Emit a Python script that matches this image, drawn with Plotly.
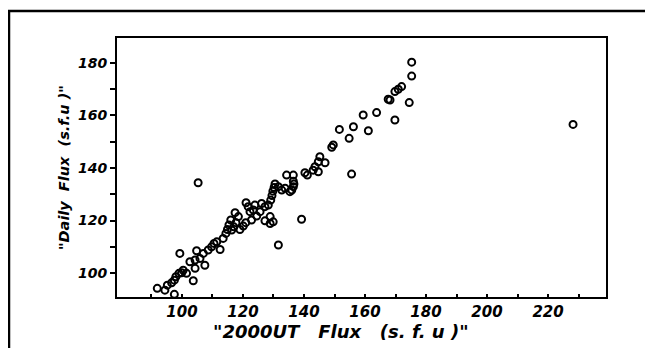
import plotly.graph_objects as go

# 2000UT flux (s.f.u) vs daily flux (s.f.u)
flux_2000ut = [
    91.9, 94.4, 95.2, 96.6, 97.5, 98.0, 99.0, 99.9, 100.4, 97.5, 99.3, 101.5,
    103.7, 102.6, 104.3, 104.3, 104.8, 105.9, 107.5, 107.0, 108.6, 109.7, 110.5,
    111.4, 112.5, 113.5, 114.4, 114.9, 115.4, 116.0, 116.3, 117.0, 117.7, 117.4,
    118.5, 119.0, 120.1, 120.9, 121.0, 121.7, 122.3, 122.8, 123.4, 123.9, 124.5,
    125.6, 126.1, 127.2, 127.2, 128.3, 128.9, 128.9, 129.1, 129.5, 129.8, 130.2,
    130.5, 129.9, 131.6, 131.6, 132.7, 133.8, 135.4, 136.0, 134.3, 136.5, 136.5,
    136.7, 136.5, 139.2, 140.3, 141.1, 143.0, 143.6, 144.7, 145.2, 146.9, 144.7,
    149.1, 149.6, 151.6, 154.8, 156.2, 155.6, 159.4, 161.1, 163.8, 167.6, 168.2,
    169.8, 170.9, 172.0, 169.8, 174.5, 175.3, 175.3, 228.2, 105.3,
]
daily_flux = [
    94.2, 93.5, 95.4, 96.3, 97.3, 98.6, 99.9, 100.1, 101.1, 91.9, 107.5, 99.9,
    97.1, 104.3, 101.8, 105.0, 108.5, 105.6, 103.0, 107.5, 108.8, 110.0, 111.3,
    111.9, 109.0, 113.2, 115.1, 116.6, 118.3, 120.2, 116.4, 117.6, 119.2, 123.0,
    121.5, 116.6, 117.9, 119.2, 126.8, 125.3, 123.4, 120.2, 124.0, 125.9, 121.7,
    123.4, 126.5, 119.9, 125.3, 125.9, 121.5, 118.9, 127.8, 129.5, 131.2, 132.6,
    133.9, 119.5, 110.7, 132.9, 131.6, 132.3, 131.0, 131.6, 137.3, 137.3, 135.0,
    133.9, 132.9, 120.5, 138.2, 137.3, 139.2, 140.5, 142.4, 144.3, 142.0, 138.6,
    147.9, 148.8, 154.7, 151.3, 155.7, 137.7, 160.2, 154.2, 161.1, 166.2, 165.9,
    169.1, 170.0, 171.0, 158.3, 164.9, 175.0, 180.3, 156.6, 134.4,
]

x_tick_vals = list(range(90, 231, 10))
x_tick_text = ["" if v % 20 else str(v) for v in x_tick_vals]
y_tick_vals = list(range(100, 181, 10))
y_tick_text = ["" if v % 20 else str(v) for v in y_tick_vals]

x_title = '"2000UT   Flux   (s. f. u )"'
y_title = '"Daily  Flux  (s.f.u )"'

# The page body has an 8px margin, so work in window pixels and shift.
OFF = 8
W, H = 653 - OFF, 348 - OFF
L, R, T, B = 117, 606, 38, 297  # plot box in window pixels


def px(x):
    return (x - L) / (R - L)


def py(y):
    return (B - y) / (B - T)


font_base = dict(family="DejaVu Sans", color="black", weight="bold", style="italic")

fig = go.Figure()
fig.add_trace(go.Scatter(
    x=flux_2000ut, y=daily_flux, mode="markers",
    marker=dict(symbol="circle-open", size=7, color="black",
                line=dict(width=2, color="black")),
    showlegend=False, hoverinfo="x+y",
))

fig.update_layout(
    width=W, height=H,
    margin=dict(l=L - OFF, r=653 - R, t=T - OFF, b=348 - B, pad=0),
    paper_bgcolor="white", plot_bgcolor="white",
    xaxis=dict(
        range=[78.7, 239], tickmode="array", tickvals=x_tick_vals, ticktext=x_tick_text,
        ticks="inside", ticklen=3, tickwidth=1.5, tickcolor="black",
        showline=True, linewidth=2, linecolor="black", mirror=True,
        showgrid=False, zeroline=False,
        tickfont=dict(size=15, **font_base),
    ),
    yaxis=dict(
        range=[90.9, 189.5], tickmode="array", tickvals=y_tick_vals, ticktext=y_tick_text,
        ticks="outside", ticklen=5, tickwidth=1.5, tickcolor="black",
        showline=True, linewidth=2, linecolor="black", mirror=True,
        showgrid=False, zeroline=False,
        tickfont=dict(size=14, **font_base),
    ),
    annotations=[
        dict(text=x_title, xref="paper", yref="paper", x=px(341), y=py(331),
             xanchor="center", yanchor="middle", showarrow=False,
             font=dict(size=18, **font_base)),
        dict(text=y_title, xref="paper", yref="paper", x=px(64), y=py(168),
             xanchor="center", yanchor="middle", showarrow=False, textangle=-90,
             font=dict(size=14.5, **font_base)),
    ],
    shapes=[
        dict(type="line", xref="paper", yref="paper", x0=px(9), x1=px(9),
             y0=py(11), y1=py(350), line=dict(color="black", width=2.5)),
        dict(type="line", xref="paper", yref="paper", x0=px(8), x1=px(648),
             y0=py(11), y1=py(11), line=dict(color="black", width=2.5)),
        dict(type="line", xref="paper", yref="paper", x0=px(648), x1=px(648),
             y0=py(11), y1=py(258), line=dict(color="black", width=2.5)),
    ],
)

fig.write_html("out.html")
